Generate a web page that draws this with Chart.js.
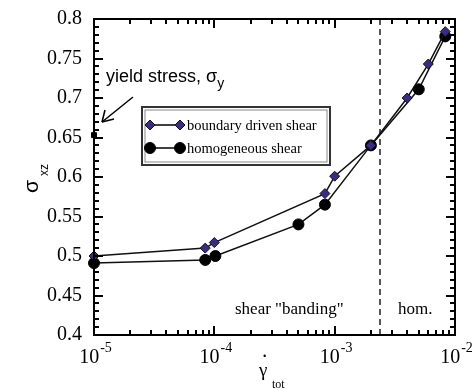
<!DOCTYPE html>
<html>
<head>
<meta charset="utf-8">
<script src="https://cdn.jsdelivr.net/npm/chart.js@4.4.1/dist/chart.umd.min.js"></script>
<style>
    html, body { margin: 0; padding: 0; background: #fff; }
    #wrap { width: 475px; height: 390px; }
</style>
</head>
<body>
<div id="wrap"><canvas id="chart"></canvas></div>
<script>
// data
const boundaryX = [1e-5, 8.4e-5, 1.0e-4, 8.3e-4, 1.0e-3, 2.0e-3, 4.0e-3, 6.0e-3, 8.3e-3];
const boundaryY = [0.500, 0.510, 0.517, 0.579, 0.601, 0.640, 0.700, 0.743, 0.784];
const homogX = [1e-5, 8.4e-5, 1.02e-4, 5.0e-4, 8.3e-4, 2.0e-3, 5.0e-3, 8.3e-3];
const homogY = [0.491, 0.495, 0.500, 0.540, 0.565, 0.640, 0.711, 0.778];
const yieldX = [1e-5];
const yieldY = [0.653];
const bandEdgeX = [2.38e-3, 2.38e-3];
const bandEdgeY = [0.4, 0.8];
const xTickVals = [1e-5, 1e-4, 1e-3, 1e-2];
const xTickExps = ['-5', '-4', '-3', '-2'];
const legendLabels = ['boundary driven shear', 'homogeneous shear'];

const SERIF = 'Liberation Serif';
const SANS = 'Liberation Sans';

function toPoints(xs, ys) {
    return xs.map((x, i) => ({x: x, y: ys[i]}));
}

const decor = {
    id: 'decor',
    afterDraw(chart) {
        const ctx = chart.ctx;
        const a = chart.chartArea;
        const xs = chart.scales.x;
        const ys = chart.scales.y;
        const line = (x1, y1, x2, y2) => {
            ctx.beginPath(); ctx.moveTo(x1, y1); ctx.lineTo(x2, y2); ctx.stroke();
        };
        ctx.save();
        ctx.setLineDash([]);
        ctx.strokeStyle = '#000';
        ctx.fillStyle = '#000';

        // frame
        ctx.lineWidth = 2;
        ctx.strokeRect(a.left, a.top, a.right - a.left, a.bottom - a.top);

        // inward ticks on all four sides
        ctx.lineWidth = 2;
        for (let n = -5; n < -2; n++) {
            for (let k = 1; k <= 9; k++) {
                const px = Math.round(xs.getPixelForValue(k * Math.pow(10, n)));
                const len = k === 1 ? 9 : 5;
                line(px, a.bottom, px, a.bottom - len);
                line(px, a.top, px, a.top + len);
            }
        }
        for (let i = 0; i <= 40; i++) {
            const py = Math.round(ys.getPixelForValue(0.4 + i * 0.01));
            const len = i % 5 === 0 ? 9 : 5;
            line(a.left, py, a.left + len, py);
            line(a.right, py, a.right - len, py);
        }

        // x tick labels, 10 with superscript exponent
        ctx.textBaseline = 'alphabetic';
        for (let i = 0; i < xTickVals.length; i++) {
            const px = xs.getPixelForValue(xTickVals[i]);
            ctx.font = '20px ' + SERIF;
            const w1 = ctx.measureText('10').width;
            ctx.font = '14px ' + SERIF;
            const w2 = ctx.measureText(xTickExps[i]).width;
            const x0 = px - (w1 + w2) / 2 + 1;
            ctx.textAlign = 'left';
            ctx.font = '20px ' + SERIF;
            ctx.fillText('10', x0, a.bottom + 28);
            ctx.font = '14px ' + SERIF;
            ctx.fillText(xTickExps[i], x0 + w1 + 1, a.bottom + 17);
        }

        // x title
        ctx.textAlign = 'left';
        ctx.font = '19px ' + SERIF;
        ctx.fillText('\u03b3', 259, 376);
        ctx.font = 'bold 16px ' + SERIF;
        ctx.fillText('\u02d9', 262, 366);
        ctx.font = '12px ' + SERIF;
        ctx.fillText('tot', 272, 388);

        // y title
        ctx.save();
        ctx.translate(38, 193);
        ctx.rotate(-Math.PI / 2);
        ctx.font = '21px ' + SANS;
        ctx.fillText('\u03c3', 0, 0);
        ctx.font = '12px ' + SANS;
        ctx.fillText('xz', 17, 10);
        ctx.restore();

        // yield stress note and arrow
        ctx.font = '18px ' + SANS;
        ctx.fillText('yield stress, \u03c3', 106, 82);
        const wy = ctx.measureText('yield stress, \u03c3').width;
        ctx.font = '14px ' + SANS;
        ctx.fillText('y', 106 + wy, 88);
        ctx.lineWidth = 1.5;
        line(133, 97, 102, 122);
        line(102, 122, 105, 110);
        line(102, 122, 114, 119);

        // region labels
        ctx.font = '17px ' + SERIF;
        ctx.fillText('shear "banding"', 235, 314);
        ctx.fillText('hom.', 398, 314);

        // legend box
        ctx.lineWidth = 2;
        ctx.strokeStyle = '#333';
        ctx.strokeRect(142, 107, 188, 58);
        ctx.lineWidth = 1;
        ctx.strokeStyle = '#888';
        ctx.strokeRect(145, 110, 182, 52);
        const rows = [125, 148];
        for (let i = 0; i < 2; i++) {
            const ds = chart.data.datasets[i];
            const y = rows[i];
            ctx.strokeStyle = '#000';
            ctx.lineWidth = 1.5;
            line(150, y, 180, y);
            const opts = {
                pointStyle: ds.pointStyle, radius: ds.pointRadius, rotation: 0,
                borderWidth: ds.pointBorderWidth
            };
            ctx.fillStyle = ds.pointBackgroundColor;
            ctx.strokeStyle = ds.pointBorderColor;
            ctx.lineWidth = ds.pointBorderWidth;
            Chart.helpers.drawPoint(ctx, opts, 150, y);
            Chart.helpers.drawPoint(ctx, opts, 180, y);
            ctx.fillStyle = '#000';
            ctx.font = '14.5px ' + SERIF;
            ctx.fillText(legendLabels[i], 187, y + 5);
        }
        ctx.restore();
    }
};

Chart.defaults.font.family = SERIF;

const ctxChart = document.getElementById('chart').getContext('2d');
const chart = new Chart(ctxChart, {
    type: 'line',
    data: {
        datasets: [
            {
                label: legendLabels[0],
                data: toPoints(boundaryX, boundaryY),
                borderColor: '#111',
                borderWidth: 1.5,
                pointStyle: 'rectRot',
                pointRadius: 5,
                pointBackgroundColor: '#3b2a8c',
                pointBorderColor: '#111',
                pointBorderWidth: 1,
                clip: false
            },
            {
                label: legendLabels[1],
                data: toPoints(homogX, homogY),
                borderColor: '#111',
                borderWidth: 1.5,
                pointStyle: 'circle',
                pointRadius: 5.5,
                pointBackgroundColor: '#000',
                pointBorderColor: '#000',
                pointBorderWidth: 1,
                clip: false
            },
            {
                label: 'yield',
                data: toPoints(yieldX, yieldY),
                showLine: false,
                pointStyle: 'rect',
                pointRadius: 3.5,
                pointBackgroundColor: '#000',
                pointBorderColor: '#000',
                clip: false
            },
            {
                label: 'band edge',
                data: toPoints(bandEdgeX, bandEdgeY),
                borderColor: '#555',
                borderWidth: 2,
                borderDash: [6, 4],
                pointRadius: 0
            }
        ]
    },
    options: {
        responsive: true,
        maintainAspectRatio: false,
        animation: false,
        layout: {padding: {top: 19, right: 20, left: 0, bottom: 0}},
        plugins: {
            legend: {display: false},
            tooltip: {enabled: false}
        },
        scales: {
            x: {
                type: 'logarithmic',
                min: 1e-5,
                max: 1e-2,
                grid: {display: false},
                border: {display: false},
                ticks: {display: false},
                afterFit(scale) { scale.height = 55; }
            },
            y: {
                min: 0.4,
                max: 0.8,
                grid: {display: false},
                border: {display: false},
                ticks: {
                    stepSize: 0.05,
                    color: '#000',
                    padding: 4,
                    font: {family: SERIF, size: 20},
                    callback: (v) => String(Math.round(v * 100) / 100)
                },
                afterFit(scale) { scale.width = 94; }
            }
        }
    },
    plugins: [decor]
});
</script>
</body>
</html>
